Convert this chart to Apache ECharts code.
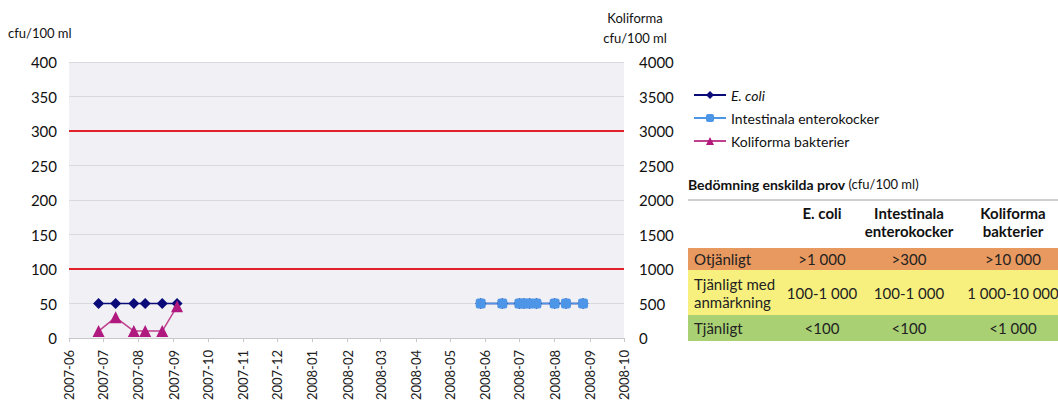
<!DOCTYPE html>
<html><head><meta charset="utf-8">
<script src="https://cdn.jsdelivr.net/npm/echarts@6/dist/echarts.min.js"></script>
<style>html,body{margin:0;padding:0;background:#fff}#c{width:1058px;height:419px}</style>
</head><body><div id="c"></div>
<script>
const ecoliDates = ['2007-06-27','2007-07-12','2007-07-28','2007-08-07','2007-08-22','2007-09-04','2008-01-01',
  '2008-05-28','2008-06-16','2008-07-01','2008-07-05','2008-07-10','2008-07-16','2008-08-01','2008-08-11','2008-08-26'];
const ecoliValues = [50,50,50,50,50,50,null, 50,50,50,50,50,50,50,50,50];
const enteroDates = ['2008-05-28','2008-06-16','2008-07-01','2008-07-05','2008-07-10','2008-07-16','2008-08-01','2008-08-11','2008-08-26'];
const enteroValues = [50,50,50,50,50,50,50,50,50];
const koliDates = ['2007-06-27','2007-07-12','2007-07-28','2007-08-07','2007-08-22','2007-09-04'];
const koliValues = [100,300,100,100,100,460];
const limitLines = [100,300];
const seriesNames = ['E. coli','Intestinala enterokocker','Koliforma bakterier'];
const tableTitle = 'Bedömning enskilda prov';
const tableUnit = '(cfu/100 ml)';
const tableCols = [['E. coli'],['Intestinala','enterokocker'],['Koliforma','bakterier']];
const tableRows = [
  {label:['Otjänligt'], vals:['>1 000','>300','>10 000']},
  {label:['Tjänligt med','anmärkning'], vals:['100-1 000','100-1 000','1 000-10 000']},
  {label:['Tjänligt'], vals:['<100','<100','<1 000']}
];

const FONT = 'Lato, "Open Sans", sans-serif';
const zip = (d,v) => d.map((x,i)=>[x, v[i]===null ? '-' : v[i]]);
const chart = echarts.init(document.getElementById('c'), null, {renderer:'svg'});

const g = [];
g.push({type:'text', left:8, top:26, style:{text:'cfu/100 ml', font:'13px '+FONT, fill:'#111'}});
g.push({type:'text', x:635, y:8, style:{text:'Koliforma\ncfu/100 ml', font:'13px '+FONT, fill:'#111', align:'center', lineHeight:20}});
g.push({type:'text', x:688, y:177, style:{text:'{b|'+tableTitle+'} {n|'+tableUnit+'}', rich:{b:{font:'bold 14px '+FONT, fill:'#111'}, n:{font:'13px '+FONT, fill:'#111'}}}});
g.push({type:'line', shape:{x1:688,y1:200,x2:1058,y2:200}, style:{stroke:'#a0a0a0', lineWidth:1}});
const colX = [822, 909, 1013];
tableCols.forEach((c,i)=>{
  g.push({type:'text', x:colX[i], y:204, style:{text:c.join('\n'), font:'bold 15px '+FONT, fill:'#111', align:'center', lineHeight:18}});
});
const rowBands = [[248,270,'#e8995f'],[270,315,'#f7f07e'],[315,341,'#a9d174']];
tableRows.forEach((r,i)=>{
  const [y0,y1,col] = rowBands[i];
  g.push({type:'rect', shape:{x:688,y:y0,width:370,height:y1-y0}, style:{fill:col}});
  const cy = (y0+y1)/2;
  g.push({type:'text', x:694, y:cy, style:{text:r.label.join('\n'), font:'15px '+FONT, fill:'#222', verticalAlign:'middle', lineHeight:18}});
  r.vals.forEach((v,j)=>{
    g.push({type:'text', x:colX[j], y:cy, style:{text:v, font:'15px '+FONT, fill:'#222', align:'center', verticalAlign:'middle'}});
  });
});

const pad = n => String(n).padStart(2,'0');
chart.setOption({
  animation:false,
  textStyle:{fontFamily:FONT},
  grid:{left:69, right:434, top:62, bottom:81, show:true, backgroundColor:'#f0f0f5', borderWidth:0, containLabel:false},
  legend:{
    orient:'vertical', left:688, top:83, itemWidth:32, itemHeight:10, itemGap:9,
    data:seriesNames,
    formatter: n => n==='E. coli' ? '{i|'+n+'}' : n,
    textStyle:{fontSize:14, color:'#111', fontFamily:FONT, rich:{i:{fontStyle:'italic', fontSize:14, fontFamily:FONT, color:'#111'}}}
  },
  xAxis:{
    type:'time', min:'2007-06-01', max:'2008-10-01',
    minInterval:28*864e5, maxInterval:31*864e5, splitNumber:16,
    axisLine:{show:true, lineStyle:{color:'#c8c8cc'}},
    axisTick:{show:true, length:4, lineStyle:{color:'#c8c8cc'}},
    splitLine:{show:false},
    axisLabel:{rotate:90, fontSize:13, color:'#222', margin:12, hideOverlap:false, showMinLabel:true, showMaxLabel:true,
      formatter: v => { const d=new Date(v); return d.getFullYear()+'-'+pad(d.getMonth()+1); }}
  },
  yAxis:[
    {type:'value', min:0, max:400, interval:50,
     axisLine:{show:false}, axisTick:{show:false},
     splitLine:{show:true, lineStyle:{color:'#d9d9df', width:1}},
     axisLabel:{fontSize:15, color:'#111', margin:12}},
    {type:'value', min:0, max:4000, interval:500, position:'right',
     axisLine:{show:false}, axisTick:{show:false}, splitLine:{show:false},
     axisLabel:{fontSize:15, color:'#111', margin:15, formatter: v => String(v)}}
  ],
  series:[
    {name:seriesNames[0], type:'line', data:zip(ecoliDates,ecoliValues), symbol:'diamond', symbolSize:11, connectNulls:false,
     itemStyle:{color:'#0a0a78'}, lineStyle:{color:'#0a0a78', width:1.5},
     markLine:{silent:true, symbol:'none', label:{show:false}, lineStyle:{color:'#e0222a', width:2, type:'solid'},
       data: limitLines.map(v=>({yAxis:v}))}},
    {name:seriesNames[1], type:'line', data:zip(enteroDates,enteroValues), symbol:'roundRect', symbolSize:10,
     itemStyle:{color:'#4d95e6'}, lineStyle:{color:'#4d95e6', width:1.5}},
    {name:seriesNames[2], type:'line', yAxisIndex:1, data:zip(koliDates,koliValues), symbol:'triangle', symbolSize:12,
     itemStyle:{color:'#b0197e'}, lineStyle:{color:'#c0408e', width:1.5}}
  ],
  graphic:g
});
</script></body></html>
